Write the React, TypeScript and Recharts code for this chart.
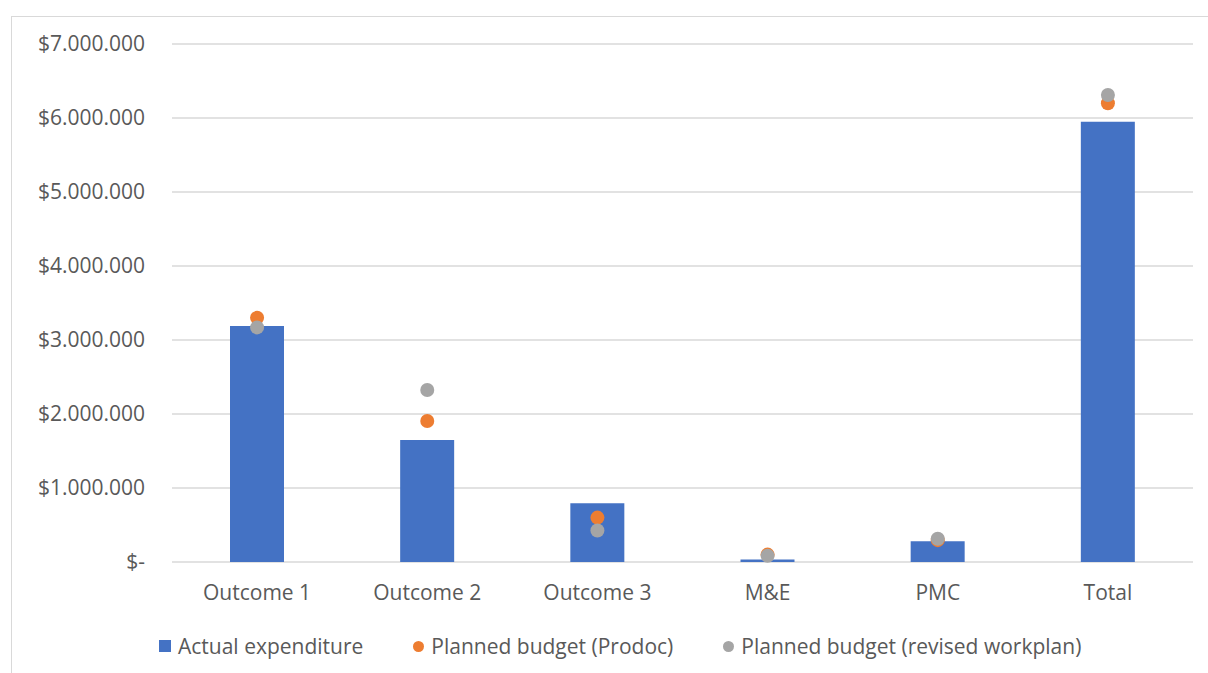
import React from 'react'
import { ComposedChart, Bar, Line, XAxis, YAxis, CartesianGrid } from 'recharts'

const categories = ['Outcome 1', 'Outcome 2', 'Outcome 3', 'M&E', 'PMC', 'Total']
const actualExpenditure = [3190000, 1650000, 795000, 35000, 280000, 5950000]
const plannedProdoc = [3300000, 1905000, 600000, 100000, 295000, 6200000]
const plannedRevised = [3170000, 2325000, 425000, 85000, 315000, 6310000]
const yTicks = [0, 1000000, 2000000, 3000000, 4000000, 5000000, 6000000, 7000000]

const FONT = '"Open Sans", sans-serif'
const TEXT = '#595959'
const BLUE = '#4472C4'
const ORANGE = '#ED7D31'
const GREY = '#A5A5A5'

const data = categories.map((name, i) => ({
  name,
  actual: actualExpenditure[i],
  prodoc: plannedProdoc[i],
  revised: plannedRevised[i],
}))

function formatMoney(v: number) {
  if (v === 0) return '$-'
  return '$' + v.toString().replace(/\B(?=(\d{3})+(?!\d))/g, '.')
}

const legendItems = [
  { label: 'Actual expenditure', color: BLUE, shape: 'square' },
  { label: 'Planned budget (Prodoc)', color: ORANGE, shape: 'circle' },
  { label: 'Planned budget (revised workplan)', color: GREY, shape: 'circle' },
]

export default function App() {
  return (
    <div style={{ position: 'absolute', left: 0, top: 0, width: 1208, height: 673, background: '#fff', overflow: 'hidden' }}>
      {/* chart border */}
      <div
        style={{
          position: 'absolute',
          left: 11,
          top: 16,
          width: 1220,
          height: 680,
          border: '1px solid #d9d9d9',
        }}
      />
      <div style={{ position: 'absolute', left: 0, top: 0 }}>
        <ComposedChart
          width={1208}
          height={673}
          data={data}
          margin={{ top: 44, right: 15, left: 0, bottom: 61 }}
        >
          <CartesianGrid vertical={false} stroke="#d9d9d9" strokeWidth={1.3} />
          <XAxis
            dataKey="name"
            axisLine={false}
            tickLine={false}
            tickSize={0}
            tickMargin={23}
            height={50}
            tick={{ fill: TEXT, fontSize: 21, fontFamily: FONT }}
          />
          <YAxis
            width={172}
            domain={[0, 7000000]}
            ticks={yTicks}
            axisLine={false}
            tickLine={false}
            tickSize={0}
            tickMargin={27}
            tickFormatter={formatMoney}
            tick={{ fill: TEXT, fontSize: 21, fontFamily: FONT }}
          />
          <Bar dataKey="actual" fill={BLUE} barSize={54} isAnimationActive={false} />
          <Line
            dataKey="prodoc"
            stroke="none"
            strokeWidth={0}
            dot={{ r: 7, fill: ORANGE, stroke: ORANGE, strokeWidth: 0 }}
            activeDot={false}
            isAnimationActive={false}
          />
          <Line
            dataKey="revised"
            stroke="none"
            strokeWidth={0}
            dot={{ r: 7, fill: GREY, stroke: GREY, strokeWidth: 0 }}
            activeDot={false}
            isAnimationActive={false}
          />
        </ComposedChart>
      </div>
      {/* legend */}
      <div
        style={{
          position: 'absolute',
          left: 159,
          top: 632,
          display: 'flex',
          alignItems: 'center',
          fontFamily: FONT,
          fontSize: 21,
          color: TEXT,
          whiteSpace: 'nowrap',
        }}
      >
        {legendItems.map((item, i) => (
          <div key={i} style={{ display: 'flex', alignItems: 'center', marginRight: i < 2 ? 50 : 0 }}>
            <span
              style={{
                display: 'inline-block',
                width: item.shape === 'square' ? 12 : 11,
                height: item.shape === 'square' ? 12 : 11,
                borderRadius: item.shape === 'circle' ? '50%' : 0,
                background: item.color,
                marginRight: 7,
              }}
            />
            <span>{item.label}</span>
          </div>
        ))}
      </div>
    </div>
  )
}
